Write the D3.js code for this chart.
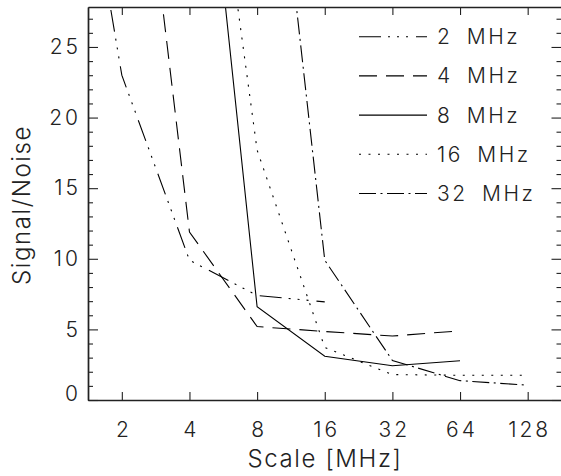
<!DOCTYPE html>
<html>
<head>
<meta charset="utf-8">
<script src="https://cdn.jsdelivr.net/npm/d3@7"></script>
<style>
  html, body { margin: 0; padding: 0; background: #fff; }
  svg { display: block; }
  text { font-family: "Inter", "Liberation Sans", sans-serif; font-weight: 300; fill: #222; }
</style>
</head>
<body>
<svg id="chart" width="561" height="476"></svg>
<script>
// ---- data ----
const scales = [1, 2, 4, 8, 16, 32, 64, 128];           // Scale [MHz]
const seriesNames = ["2 MHz", "4 MHz", "8 MHz", "16 MHz", "32 MHz"];
const sn2  = [[1, 51.5], [2, 23.0], [4, 9.9], [8, 7.4], [16, 6.95]];
const sn4  = [[2, 52.0], [4, 11.9], [8, 5.2], [16, 4.85], [32, 4.53], [64, 4.9]];
const sn8  = [[4, 52.0], [8, 6.6], [16, 3.1], [32, 2.43], [64, 2.78]];
const sn16 = [[4, 53.0], [8, 17.7], [16, 3.72], [32, 1.8], [64, 1.75], [128, 1.75]];
const sn32 = [[8, 52.7], [16, 9.9], [32, 2.8], [64, 1.37], [128, 1.05]];
const xTickValues = [2, 4, 8, 16, 32, 64, 128];
const yTickValues = [0, 5, 10, 15, 20, 25];
const yMinorValues = d3.range(0, 28);
const dashes = ["22,7,2,7,2,7,2,8", "18,9", null, "2,7.5", "17,4.5,2,4.5"];

// ---- layout ----
const L = 88, R = 561.5, T = 7, B = 400;
const svg = d3.select("#chart");

const x = d3.scaleLog().base(2).domain([Math.SQRT2, 128 * Math.SQRT2]).range([L, R]);
const y = d3.scaleLinear().domain([0, 27.83]).range([B, T]);

svg.append("defs").append("clipPath").attr("id", "plotclip")
  .append("rect").attr("x", L).attr("y", T).attr("width", R - L).attr("height", B - T);

// series lines
const allSeries = [sn2, sn4, sn8, sn16, sn32];
const line = d3.line().x(d => x(d[0])).y(d => y(d[1]));
const g = svg.append("g").attr("clip-path", "url(#plotclip)");
allSeries.forEach((s, i) => {
  g.append("path").datum(s)
    .attr("d", line)
    .attr("fill", "none")
    .attr("stroke", "#000")
    .attr("stroke-width", 1.1)
    .attr("stroke-dasharray", dashes[i]);
});

// axes
function styleAxis(sel) {
  sel.select(".domain").attr("stroke", "#222").attr("stroke-width", 1.4);
  sel.selectAll(".tick line").attr("stroke", "#222").attr("stroke-width", 1.1);
}
const xb = svg.append("g").attr("transform", `translate(0,${B})`)
  .call(d3.axisBottom(x).tickValues(xTickValues).tickFormat(d3.format("d")).tickSize(-8).tickPadding(22).tickSizeOuter(0));
styleAxis(xb);
xb.selectAll("text").attr("font-size", 21).attr("fill", "#222").style("letter-spacing", "3px").attr("dx", "1.5px");

const xt = svg.append("g").attr("transform", `translate(0,${T})`)
  .call(d3.axisTop(x).tickValues(xTickValues).tickFormat("").tickSize(-8).tickSizeOuter(0));
styleAxis(xt);

const yl = svg.append("g").attr("transform", `translate(${L},0)`)
  .call(d3.axisLeft(y).tickValues(yTickValues).tickFormat(d3.format("d")).tickSize(-10).tickPadding(7).tickSizeOuter(0));
styleAxis(yl);
yl.selectAll("text").attr("font-size", 21).attr("fill", "#222").style("letter-spacing", "3px");
yl.selectAll(".tick").filter(d => d === 0).select("text").attr("dy", "0.0em");

const ylm = svg.append("g").attr("transform", `translate(${L},0)`)
  .call(d3.axisLeft(y).tickValues(yMinorValues.filter(v => v % 5 !== 0)).tickFormat("").tickSize(-5).tickSizeOuter(0));
styleAxis(ylm);

const yr = svg.append("g").attr("transform", `translate(${R},0)`)
  .call(d3.axisRight(y).tickValues(yTickValues).tickFormat("").tickSize(-10).tickSizeOuter(0));
styleAxis(yr);
const yrm = svg.append("g").attr("transform", `translate(${R},0)`)
  .call(d3.axisRight(y).tickValues(yMinorValues.filter(v => v % 5 !== 0)).tickFormat("").tickSize(-5).tickSizeOuter(0));
styleAxis(yrm);

// axis titles
svg.append("text").attr("x", 325).attr("y", 467).attr("text-anchor", "middle")
  .attr("font-size", 24).style("letter-spacing", "1.6px").text("Scale [MHz]");
svg.append("text").attr("transform", `translate(30,205) rotate(-90)`).attr("text-anchor", "middle")
  .attr("font-size", 24).style("letter-spacing", "1.6px").text("Signal/Noise");

// legend
const lg = svg.append("g");
seriesNames.forEach((name, i) => {
  const yy = 36.7 + i * 39.2;
  lg.append("line").attr("x1", 359).attr("x2", 427).attr("y1", yy).attr("y2", yy)
    .attr("stroke", "#000").attr("stroke-width", 1.1).attr("stroke-dasharray", dashes[i]);
  lg.append("text").attr("x", 437).attr("y", yy).attr("dy", "0.36em")
    .attr("font-size", 21).style("letter-spacing", "2.5px").style("word-spacing", "6px").text(name);
});
</script>
</body>
</html>
